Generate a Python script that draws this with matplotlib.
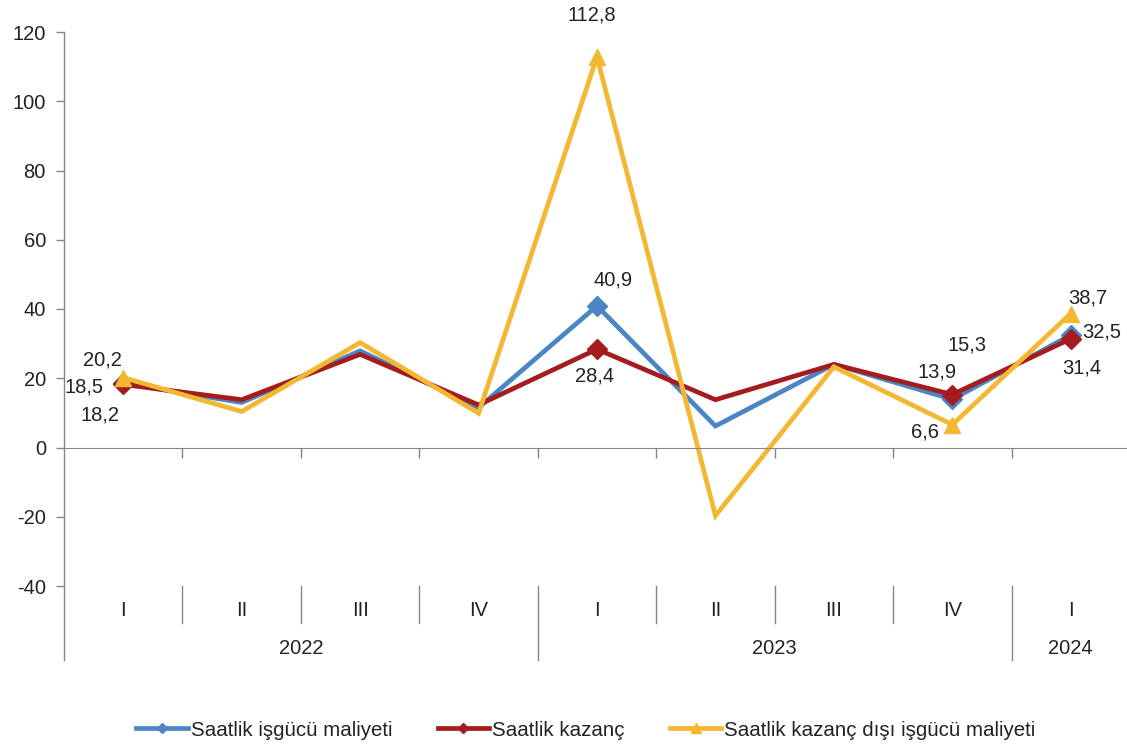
import matplotlib
matplotlib.use('Agg')
import matplotlib.pyplot as plt
from matplotlib.lines import Line2D

plt.rcParams['font.family'] = ['Liberation Sans', 'DejaVu Sans']
plt.rcParams['axes.unicode_minus'] = False

quarters = ['I', 'II', 'III', 'IV', 'I', 'II', 'III', 'IV', 'I']
years = ['2022', '2023', '2024']
yearSpans = [(0, 3), (4, 7), (8, 8)]

labourCost = [18.5, 13.0, 27.9, 11.5, 40.9, 6.2, 24.0, 13.9, 32.5]
earnings = [18.2, 13.8, 26.9, 12.3, 28.4, 13.8, 24.0, 15.3, 31.4]
nonWageCost = [20.2, 10.4, 30.3, 9.9, 112.8, -19.7, 23.3, 6.6, 38.7]

seriesNames = ['Saatlik işgücü maliyeti', 'Saatlik kazanç',
               'Saatlik kazanç dışı işgücü maliyeti']
labelledIdx = [0, 4, 7, 8]

# label offsets in pixels (dx, dy) for each labelled point, per series
blueOffsets = [(-39, -4), (16, 26), (-15, 27), (31, 3)]
redOffsets = [(-23, -31), (-2, -27), (15, 50), (11, -29)]
yellowOffsets = [(-21, 18), (-5, 42), (-27, -7), (17, 16)]

blue = '#4A86C5'
red = '#A51C1E'
yellow = '#F4B731'
gray = '#868686'
txtColor = '#222222'
fs = 14.5

fig = plt.figure(figsize=(11.27, 7.49), dpi=100)
ax = fig.add_axes([64/1127, 1-586/749, 1066/1127, 554/749])

x = list(range(len(quarters)))
series = [(labourCost, blue, 'D', 10, blueOffsets),
          (earnings, red, 'D', 10, redOffsets),
          (nonWageCost, yellow, '^', 12, yellowOffsets)]

for vals, col, mk, ms, offs in series:
    ax.plot(x, vals, color=col, linewidth=3.4, marker=mk, markersize=ms,
            markevery=labelledIdx, solid_joinstyle='miter')
    for i, (dx, dy) in zip(labelledIdx, offs):
        ax.annotate('{:.1f}'.format(vals[i]).replace('.', ','), (i, vals[i]),
                    xytext=(dx*0.72, dy*0.72), textcoords='offset points',
                    ha='center', va='center', fontsize=fs, color=txtColor)

ax.set_xlim(-0.5, 8.5)
ax.set_ylim(-40, 120)
ax.set_yticks(range(-40, 121, 20))
ax.tick_params(axis='y', direction='out', length=6, width=1, color=gray,
               labelsize=fs, labelcolor=txtColor, pad=7)

ax.spines['top'].set_visible(False)
ax.spines['right'].set_visible(False)
ax.spines['left'].set_visible(False)
ax.spines['bottom'].set_position(('data', 0))
ax.spines['bottom'].set_color(gray)
ax.set_xticks([b + 0.5 for b in range(8)])
ax.set_xticklabels([])
ax.tick_params(axis='x', direction='out', length=7, width=1, color=gray)

trans = ax.get_xaxis_transform()
# left axis line running down through the category area
ax.plot([-0.5, -0.5], [1, -0.134], transform=trans, color=gray,
        linewidth=1, clip_on=False)
for b in range(8):
    bx = b + 0.5
    low = -0.134 if b in (3, 7) else -0.067
    ax.plot([bx, bx], [0, low], transform=trans, color=gray,
            linewidth=1, clip_on=False)

for i, q in enumerate(quarters):
    ax.text(i, -0.045, q, transform=trans, ha='center', va='center',
            fontsize=fs, color=txtColor)
for yr, (a, b) in zip(years, yearSpans):
    ax.text((a + b)/2, -0.112, yr, transform=trans, ha='center', va='center',
            fontsize=fs, color=txtColor)

handles = [Line2D([], [], color=blue, linewidth=3.4, marker='D', markersize=5),
           Line2D([], [], color=red, linewidth=3.4, marker='D', markersize=5),
           Line2D([], [], color=yellow, linewidth=3.4, marker='^', markersize=7)]
fig.legend(handles, seriesNames, loc='center', bbox_to_anchor=(586/1127, 1-730/749),
           ncol=3, frameon=False, fontsize=14.8, handlelength=2.5,
           handletextpad=0.15, columnspacing=2.2, labelcolor=txtColor)

fig.savefig('out.png', dpi=100)
